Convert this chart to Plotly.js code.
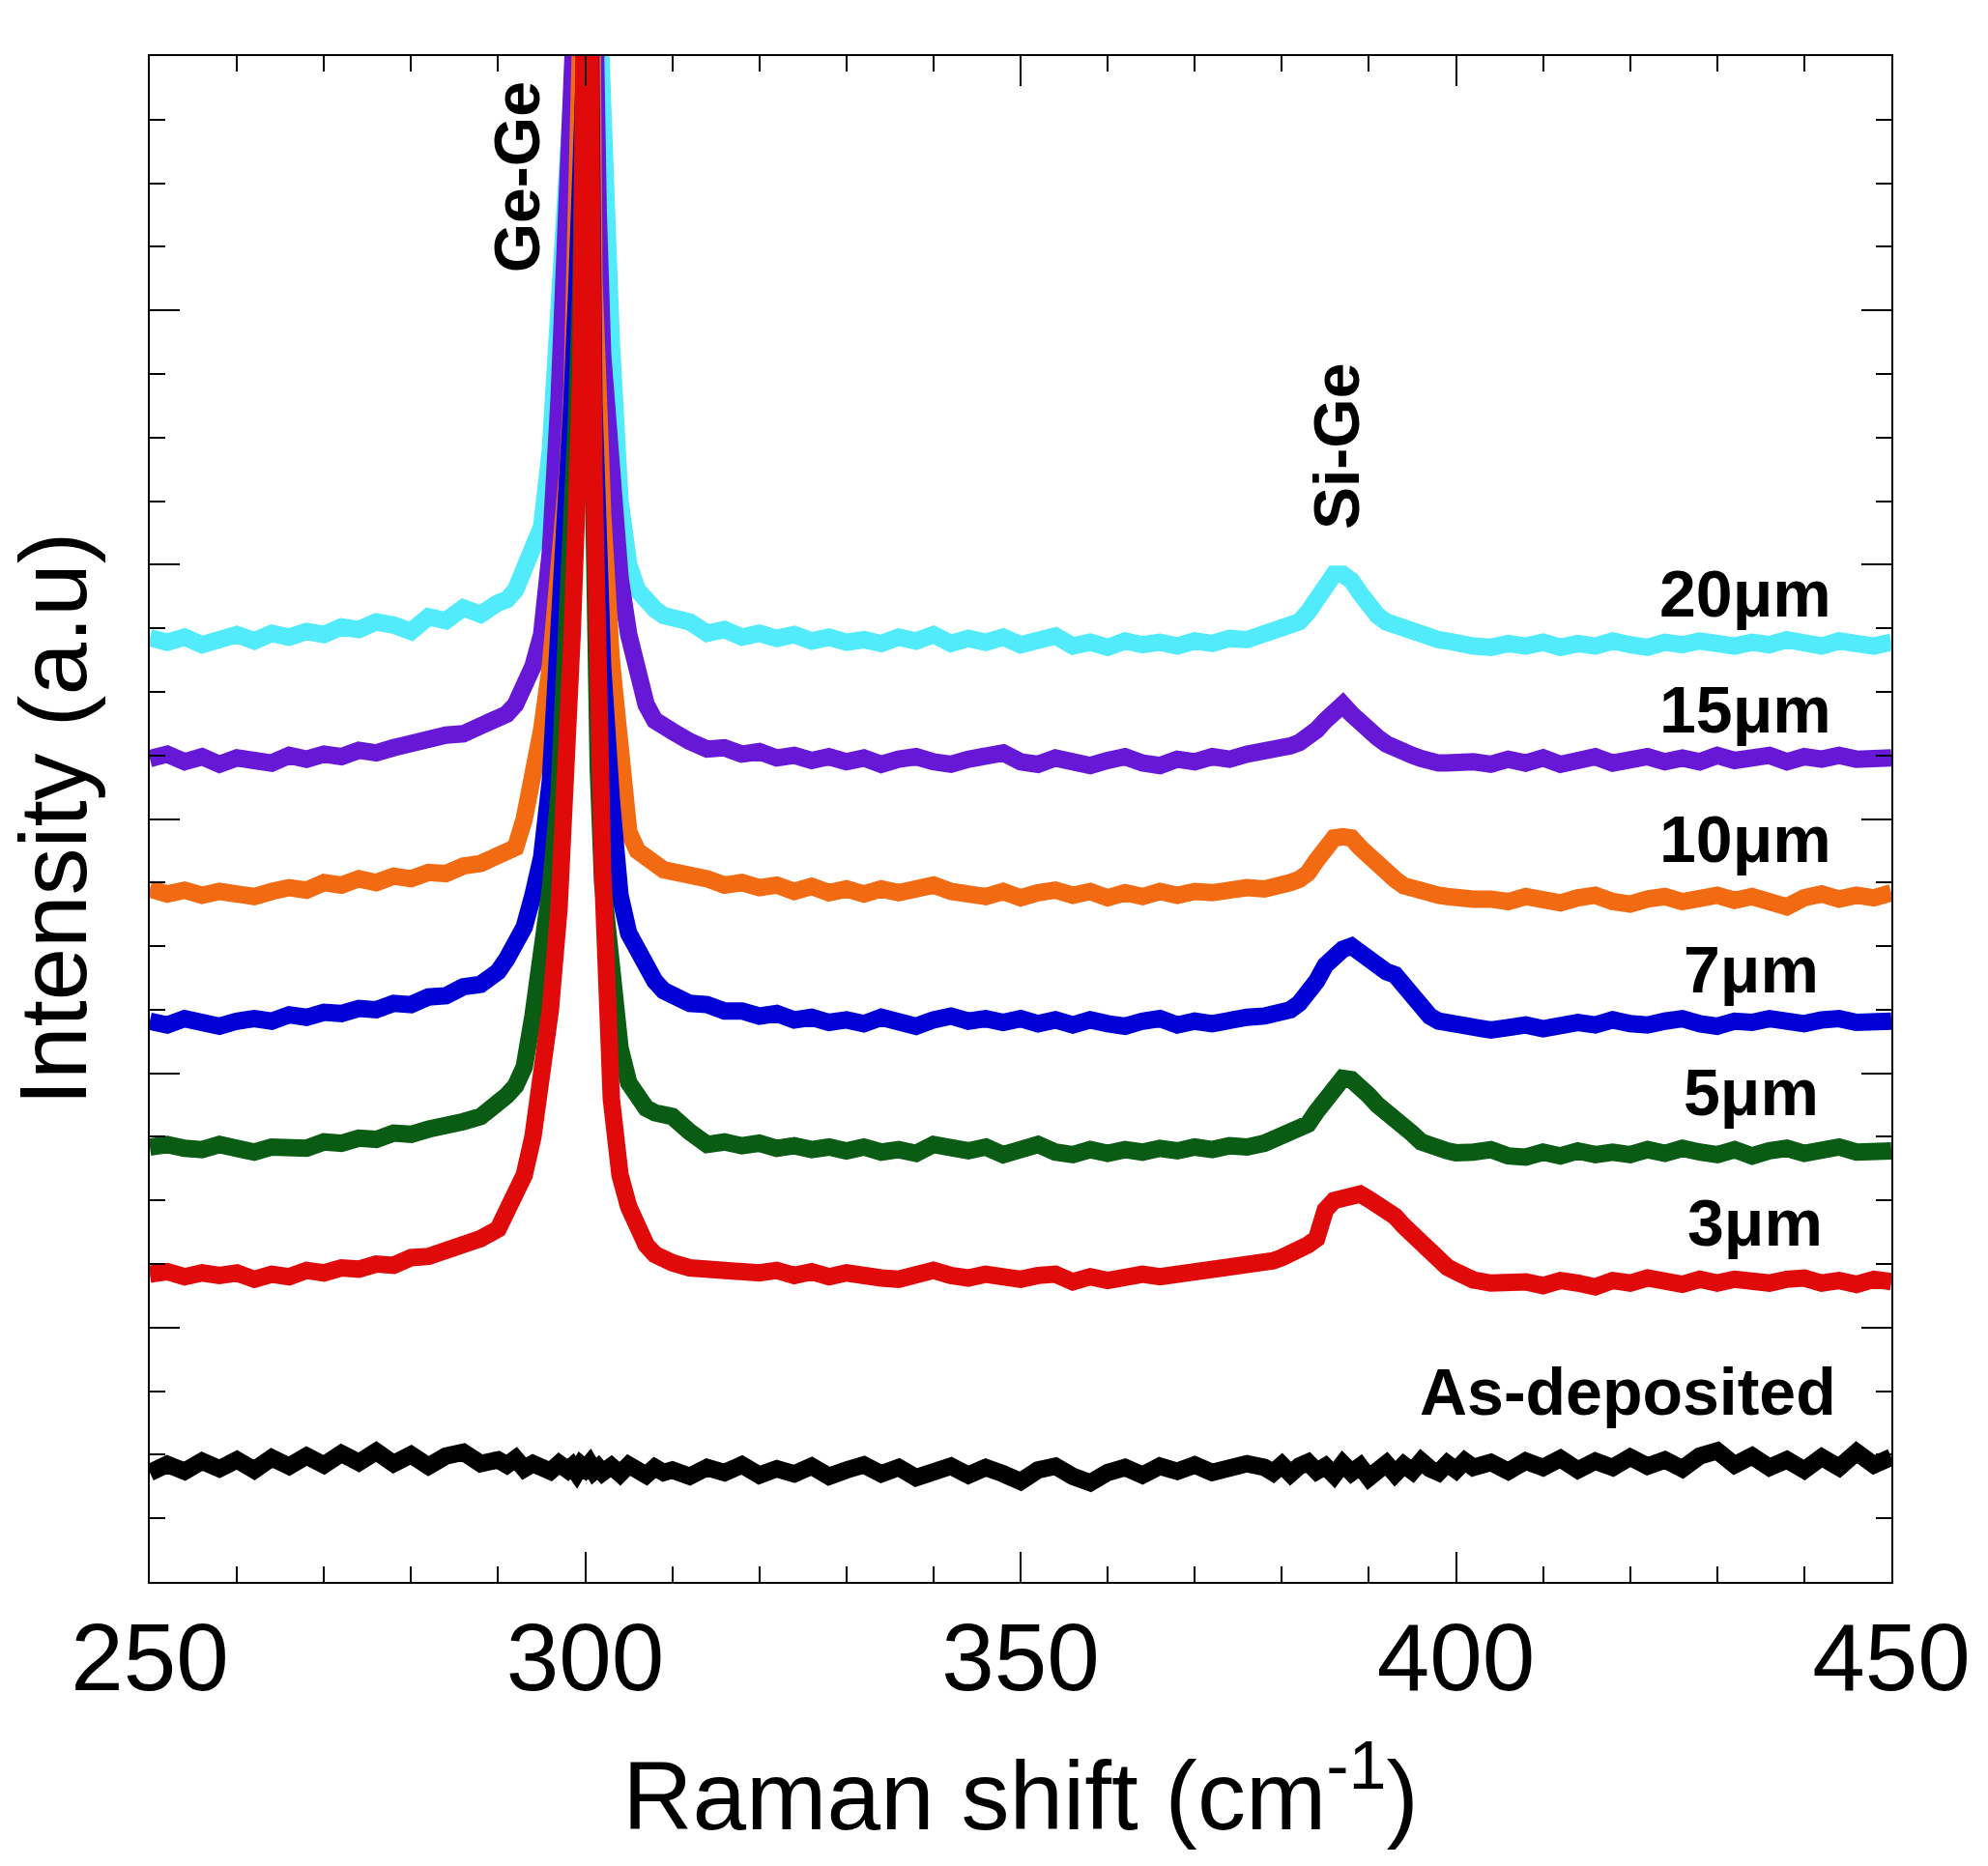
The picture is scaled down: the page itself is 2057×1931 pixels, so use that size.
<!DOCTYPE html>
<html>
<head>
<meta charset="utf-8">
<script src="https://cdn.plot.ly/plotly-3.0.1.min.js"></script>
<style>
  html, body { margin: 0; padding: 0; background: #ffffff; }
  #ramanChart { width: 2057px; height: 1931px; }
</style>
</head>
<body>
<div id="ramanChart"></div>
<script>
// Raman shift axis (cm-1) - denser sampling around the Ge-Ge and Si-Ge peaks
const ramanShift = [
    250, 252, 254, 256, 258, 260, 262, 264, 266, 268, 270, 272, 274, 276, 278, 280, 282, 284, 286, 288, 290,
    291, 292, 293, 294, 295, 296, 297, 298, 298.5, 299, 299.5, 300, 300.5, 301, 301.5, 302, 303, 304, 305, 306, 307, 308, 309,
    310, 312, 314, 316, 318, 320, 322, 324, 326, 328, 330, 332, 334, 336, 338, 340, 342, 344, 346, 348, 350,
    352, 354, 356, 358, 360, 362, 364, 366, 368, 370, 372, 374, 376,
    378, 379, 380, 381, 382, 383, 384, 385, 386, 387, 388, 389, 390, 391, 392, 393, 394, 395, 396, 397, 398, 399, 400, 401, 402,
    404, 406, 408, 410, 412, 414, 416, 418, 420, 422, 424, 426, 428, 430, 432, 434, 436, 438, 440, 442, 444, 446, 448, 450
];

// stacked intensities (arbitrary units, offset per sample)
const int20um = [
    14.85, 14.78, 14.86, 14.74, 14.82, 14.9, 14.8, 14.92, 14.86, 14.95, 14.9, 15.02, 14.98, 15.1, 15.05, 14.95, 15.18, 15.12, 15.32, 15.22, 15.4,
    15.45, 15.6, 15.9, 16.2, 16.6, 17.8, 19.8, 21.8, 23.4, 25.5, 30, 36, 32, 27, 24.8, 23.0, 19.5, 17.0, 16.0, 15.6, 15.4, 15.3, 15.2,
    15.18, 15.1, 14.92, 14.98, 14.86, 14.92, 14.84, 14.9, 14.8, 14.86, 14.78, 14.82, 14.76, 14.86, 14.8, 14.9, 14.76, 14.84, 14.78, 14.86, 14.74,
    14.82, 14.88, 14.72, 14.78, 14.7, 14.8, 14.74, 14.78, 14.72, 14.8, 14.76, 14.84, 14.82,
    14.9, 14.95, 15.0, 15.05, 15.1, 15.25, 15.45, 15.7, 15.85, 15.85, 15.75, 15.55, 15.35, 15.2, 15.1, 15.05, 14.95, 14.9, 14.88, 14.85, 14.82, 14.8, 14.75, 14.72, 14.72,
    14.7, 14.76, 14.72, 14.78, 14.7, 14.76, 14.72, 14.8, 14.74, 14.7, 14.78, 14.74, 14.8, 14.76, 14.72, 14.78, 14.74, 14.82, 14.76, 14.72, 14.8, 14.76, 14.72, 14.78
];
const int15um = [
    12.95, 13.02, 12.9, 12.98, 12.86, 12.96, 12.92, 12.88, 13.0, 12.94, 13.02, 12.98, 13.08, 13.04, 13.12, 13.2, 13.22, 13.32, 13.34, 13.46, 13.55,
    13.65, 13.8, 14.1, 14.4, 14.9, 16.2, 18.6, 21.3, 22.6, 23.5, 27, 34, 29, 24.5, 21.5, 19.3, 17.0, 15.8, 14.9, 14.2, 13.8, 13.55, 13.42,
    13.38, 13.22, 13.1, 13.12, 13.02, 13.06, 12.96, 13.0, 12.92, 12.98, 12.9, 12.96, 12.86, 12.94, 12.98, 12.9, 12.86, 12.94, 12.98, 13.04, 12.9,
    12.86, 12.96, 12.9, 12.84, 12.92, 12.98, 12.88, 12.84, 12.94, 12.9, 12.98, 12.94, 13.02,
    13.05, 13.1, 13.12, 13.15, 13.2, 13.28, 13.4, 13.55, 13.7, 13.8, 13.65, 13.5, 13.38, 13.28, 13.18, 13.1, 13.05, 13.0, 12.95, 12.9, 12.88, 12.88, 12.9, 12.92, 12.9,
    12.86, 12.94, 12.88, 12.96, 12.86, 12.92, 12.98, 12.88, 12.94, 12.98, 12.9, 12.96, 12.9, 13.0, 12.92, 12.96, 13.0, 12.9, 12.98, 12.94, 13.0, 12.94, 12.98, 12.96
];
const int10um = [
    10.9, 10.82, 10.88, 10.8, 10.86, 10.84, 10.78, 10.86, 10.92, 10.88, 11.0, 10.96, 11.06, 11.0, 11.1, 11.06, 11.16, 11.14, 11.26, 11.3, 11.42,
    11.5, 11.55, 12.0, 12.6, 13.4, 14.4, 15.8, 17.5, 18.8, 20.5, 21.8, 24.5, 30, 20.5, 18.5, 16.8, 14.5, 12.7, 11.8, 11.5, 11.35, 11.3, 11.2,
    11.18, 11.08, 11.06, 10.96, 11.0, 10.92, 10.96, 10.86, 10.94, 10.84, 10.9, 10.82, 10.9, 10.84, 10.92, 10.96, 10.86, 10.82, 10.78, 10.86, 10.76,
    10.84, 10.88, 10.8, 10.86, 10.76, 10.84, 10.78, 10.86, 10.8, 10.86, 10.84, 10.9, 10.92,
    10.9, 10.92, 10.95, 11.0, 11.05, 11.15, 11.35, 11.55, 11.7, 11.72, 11.7, 11.55, 11.4, 11.25, 11.15, 11.05, 10.95, 10.9, 10.85, 10.82, 10.8, 10.78, 10.75, 10.72, 10.74,
    10.74, 10.7, 10.78, 10.72, 10.68, 10.76, 10.8, 10.7, 10.66, 10.74, 10.78, 10.7, 10.76, 10.8, 10.72, 10.78, 10.7, 10.62, 10.76, 10.82, 10.74, 10.8, 10.76, 10.84
];
const int7um = [
    8.82, 8.76, 8.86, 8.8, 8.74, 8.82, 8.86, 8.82, 8.92, 8.88, 8.96, 8.94, 9.02, 9.0, 9.1, 9.08, 9.2, 9.22, 9.36, 9.4, 9.6,
    9.8, 10.0, 10.3, 10.8, 11.4, 12.6, 14.6, 17.0, 18.6, 20.2, 21.9, 23.8, 26, 18.5, 16.2, 14.4, 12.3, 10.8, 10.2, 9.9, 9.6, 9.45, 9.3,
    9.22, 9.1, 9.08, 8.98, 8.98, 8.9, 8.94, 8.84, 8.88, 8.8, 8.84, 8.78, 8.88, 8.8, 8.74, 8.84, 8.9, 8.82, 8.86, 8.8, 8.86,
    8.78, 8.84, 8.76, 8.84, 8.78, 8.74, 8.82, 8.86, 8.76, 8.82, 8.78, 8.86, 8.88,
    8.9, 8.93, 8.95, 9.0, 9.1, 9.25, 9.45, 9.7, 9.85, 9.95, 10.0, 9.9, 9.75, 9.65, 9.6, 9.55, 9.4, 9.2, 9.0, 8.9, 8.82, 8.8, 8.78, 8.75, 8.72,
    8.68, 8.72, 8.76, 8.7, 8.76, 8.8, 8.76, 8.84, 8.78, 8.76, 8.82, 8.86, 8.78, 8.74, 8.82, 8.8, 8.86, 8.8, 8.78, 8.84, 8.86, 8.8, 8.84, 8.82
];
const int5um = [
    6.84, 6.88, 6.82, 6.8, 6.88, 6.8, 6.76, 6.84, 6.86, 6.82, 6.92, 6.9, 6.98, 6.96, 7.06, 7.04, 7.12, 7.16, 7.24, 7.32, 7.5,
    7.65, 7.8, 8.1, 8.9, 9.8, 10.9, 12.4, 14.8, 16.5, 18.3, 20.3, 25, 21, 15.0, 12.8, 11.0, 9.3, 8.4, 7.85, 7.6, 7.45, 7.38, 7.32,
    7.32, 7.08, 6.88, 6.92, 6.86, 6.9, 6.82, 6.86, 6.8, 6.84, 6.78, 6.84, 6.76, 6.8, 6.74, 6.88, 6.82, 6.78, 6.84, 6.72, 6.8,
    6.88, 6.76, 6.72, 6.8, 6.74, 6.8, 6.76, 6.82, 6.78, 6.84, 6.8, 6.86, 6.84,
    6.9, 6.95, 7.0, 7.05, 7.1, 7.2, 7.4, 7.6, 7.8, 7.92, 7.9, 7.8, 7.65, 7.5, 7.4, 7.32, 7.2, 7.05, 6.92, 6.85, 6.8, 6.78, 6.75, 6.74, 6.76,
    6.8, 6.7, 6.68, 6.76, 6.7, 6.78, 6.72, 6.76, 6.72, 6.8, 6.74, 6.82, 6.76, 6.72, 6.8, 6.7, 6.78, 6.82, 6.74, 6.8, 6.84, 6.76, 6.8, 6.78
];
const int3um = [
    4.84, 4.88, 4.8, 4.86, 4.82, 4.86, 4.76, 4.84, 4.8, 4.9, 4.86, 4.94, 4.92, 5.0, 4.98, 5.1, 5.12, 5.22, 5.26, 5.4, 5.55,
    5.8, 6.05, 6.4, 7.0, 7.9, 9.0, 10.6, 13.0, 14.9, 16.8, 19.0, 26, 25, 17.5, 13.5, 11.2, 7.6, 6.4, 5.9, 5.55, 5.3, 5.15, 5.05,
    5.02, 4.94, 4.92, 4.88, 4.92, 4.86, 4.9, 4.82, 4.88, 4.8, 4.86, 4.8, 4.78, 4.76, 4.84, 4.9, 4.82, 4.78, 4.84, 4.78, 4.76,
    4.82, 4.84, 4.72, 4.8, 4.74, 4.8, 4.84, 4.8, 4.84, 4.86, 4.9, 4.9, 5.0,
    5.0, 5.05, 5.1, 5.15, 5.2, 5.3, 5.4, 5.85, 6.0, 6.02, 6.05, 6.1, 6.02, 5.95, 5.85, 5.75, 5.6, 5.45, 5.3, 5.15, 5.05, 4.95, 4.88, 4.8, 4.75,
    4.7, 4.74, 4.72, 4.66, 4.74, 4.7, 4.64, 4.74, 4.7, 4.78, 4.72, 4.68, 4.76, 4.7, 4.76, 4.72, 4.7, 4.76, 4.78, 4.7, 4.74, 4.68, 4.76, 4.72
];
const intAsDep = [
    1.72, 1.85, 1.74, 1.9, 1.78, 1.92, 1.76, 1.95, 1.82, 1.98, 1.84, 2.02, 1.88, 2.05, 1.86, 2.0, 1.82, 1.98, 2.04, 1.86, 1.92,
    1.84, 1.94, 1.78, 1.86, 1.8, 1.74, 1.86, 1.76, 1.82, 1.72, 1.84, 1.78, 1.86, 1.74, 1.8, 1.72, 1.82, 1.7, 1.84, 1.76, 1.68, 1.8, 1.72,
    1.76, 1.66, 1.8, 1.72, 1.84, 1.68, 1.78, 1.7, 1.82, 1.66, 1.76, 1.84, 1.7, 1.8, 1.64, 1.76, 1.82, 1.68, 1.8, 1.7, 1.58,
    1.76, 1.82, 1.66, 1.56, 1.72, 1.8, 1.68, 1.82, 1.74, 1.84, 1.72, 1.8, 1.86,
    1.8, 1.72, 1.84, 1.7, 1.82, 1.88, 1.74, 1.82, 1.68, 1.86, 1.72, 1.82, 1.64, 1.78, 1.86, 1.7, 1.84, 1.74, 1.9, 1.78, 1.72, 1.86, 1.76, 1.9, 1.8,
    1.88, 1.74, 1.9, 1.8, 1.94, 1.76, 1.9, 1.8, 1.96, 1.82, 1.92, 1.78, 1.98, 2.06, 1.84, 1.98, 1.8, 1.92, 1.76, 1.96, 1.8, 2.04, 1.84, 1.96
];

// series names / colours, drawn top curve first so the lower ones sit on top
const seriesNames = ['20μm', '15μm', '10μm', '7μm', '5μm', '3μm', 'As-deposited'];
const seriesData = [int20um, int15um, int10um, int7um, int5um, int3um, intAsDep];
const seriesColors = ['#52ebfc', '#6618d6', '#f26b12', '#0000d6', '#0a5c14', '#e00a0a', '#000000'];

// label anchor points (cm-1, intensity)
const labelX = [433.2, 433.2, 433.2, 433.9, 433.9, 434.3, 419.8];
const labelY = [15.55, 13.72, 11.69, 9.63, 7.7, 5.65, 3.0];

// peak assignments
const peakNames = ['Ge-Ge', 'Si-Ge'];
const peakX = [292.2, 386.3];
const peakY = [22.1, 17.86];

function drawRamanChart() {
    const fontFamily = '"Liberation Sans", Arial, sans-serif';

    const traces = seriesData.map((ys, i) => {
        if (ys.length !== ramanShift.length) console.warn('length mismatch', seriesNames[i], ys.length);
        return {
            x: ramanShift, y: ys, type: 'scatter', mode: 'lines', name: seriesNames[i],
            line: { color: seriesColors[i], width: 18 }, hoverinfo: 'skip'
        };
    });

    const annotations = seriesNames.map((name, i) => ({
        x: labelX[i], y: labelY[i], xref: 'x', yref: 'y', text: '<b>' + name + '</b>',
        showarrow: false, font: { family: fontFamily, size: 68, color: '#000' }
    }));
    peakNames.forEach((name, i) => {
        annotations.push({
            x: peakX[i], y: peakY[i], xref: 'x', yref: 'y', text: '<b>' + name + '</b>',
            showarrow: false, textangle: -90, font: { family: fontFamily, size: 66, color: '#000' }
        });
    });

    const layout = {
        width: 2057, height: 1931,
        paper_bgcolor: '#ffffff', plot_bgcolor: '#ffffff',
        showlegend: false,
        margin: { l: 154.5, r: 99.5, t: 57.5, b: 294, pad: 0 },
        font: { family: fontFamily, color: '#000' },
        xaxis: {
            range: [250, 450], tickvals: [250, 300, 350, 400, 450],
            ticks: 'inside', ticklen: 31, tickwidth: 2, tickcolor: '#000',
            minor: { dtick: 10, ticks: 'inside', ticklen: 16, tickwidth: 2, tickcolor: '#000' },
            showline: true, linecolor: '#000', linewidth: 2, mirror: 'allticks',
            showgrid: false, zeroline: false,
            tickfont: { family: fontFamily, size: 98, color: '#000' },
            ticklabelstandoff: -8,
            title: { text: 'Raman shift (cm<sup>-1</sup>)', font: { family: fontFamily, size: 100, color: '#000' }, standoff: 54 }
        },
        yaxis: {
            range: [0, 24], tick0: 0, dtick: 4, showticklabels: false,
            ticks: 'inside', ticklen: 31, tickwidth: 2, tickcolor: '#000',
            minor: { dtick: 1, ticks: 'inside', ticklen: 16, tickwidth: 2, tickcolor: '#000' },
            showline: true, linecolor: '#000', linewidth: 2, mirror: 'allticks',
            showgrid: false, zeroline: false,
            title: { text: 'Intensity (a.u)', font: { family: fontFamily, size: 98, color: '#000' }, standoff: 40 }
        },
        annotations: annotations
    };

    Plotly.newPlot('ramanChart', traces, layout, { staticPlot: true, displayModeBar: false });
}

drawRamanChart();
</script>
</body>
</html>
